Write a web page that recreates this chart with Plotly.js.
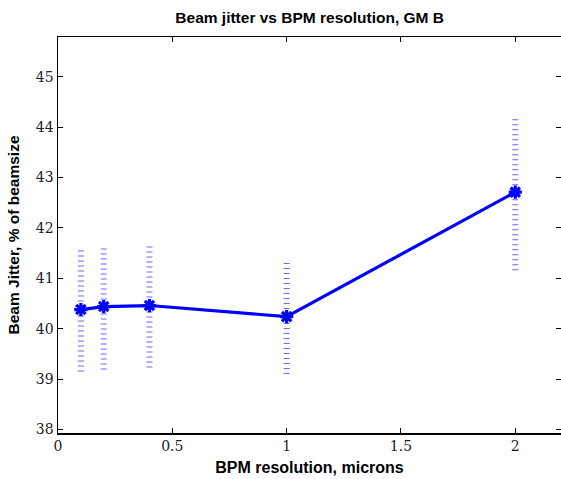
<!DOCTYPE html>
<html>
<head>
<meta charset="utf-8">
<script src="https://cdn.plot.ly/plotly-3.0.1.min.js"></script>
<style>html,body{margin:0;padding:0;background:#fff;}#chart{width:561px;height:479px;}</style>
</head>
<body>
<div id="chart"></div>
<script>
const resolution = [0.1, 0.2, 0.4, 1.0, 2.0];
const jitter = [40.38, 40.44, 40.46, 40.24, 42.71];
const errLow = [39.15, 39.19, 39.23, 39.10, 41.16];
const errHigh = [41.58, 41.62, 41.64, 41.32, 44.18];
const xTicks = [0, 0.5, 1, 1.5, 2];
const xTickLabels = ['0', '0.5', '1', '1.5', '2'];
const yTicks = [38, 39, 40, 41, 42, 43, 44, 45];
const yTickLabels = ['38', '39', '40', '41', '42', '43', '44', '45'];

const traces = [];
resolution.forEach((x, i) => {
  traces.push({
    x: [x, x],
    y: [errLow[i], errHigh[i]],
    mode: 'lines',
    line: {color: 'rgb(105,105,255)', width: 6, dash: '1px,4px'},
    hoverinfo: 'skip',
    showlegend: false
  });
});
traces.push({
  x: resolution,
  y: jitter,
  mode: 'lines+markers',
  line: {color: '#0000ff', width: 3.2},
  marker: {symbol: 'asterisk-open', size: 11, color: '#0000ff', line: {color: '#0000ff', width: 3.2}},
  showlegend: false
});

const sansFont = 'Liberation Sans';
const serifFont = 'DejaVu Serif';
const layout = {
  width: 561, height: 479,
  margin: {l: 58, r: 0, t: 37, b: 46},
  paper_bgcolor: '#fff', plot_bgcolor: '#fff',
  font: {family: serifFont, size: 14, color: '#222'},
  title: {
    text: '<b>Beam jitter vs BPM resolution, GM B</b>',
    font: {family: sansFont, size: 15.5, color: '#000'},
    x: 0.552, xanchor: 'center', y: 0.963, yanchor: 'middle', yref: 'container'
  },
  xaxis: {
    showline: true, linecolor: '#000', linewidth: 1.5,
    mirror: 'ticks', ticks: 'inside', ticklen: 5, tickcolor: '#000', tickwidth: 1,
    showgrid: false, zeroline: false,
    tickfont: {family: serifFont, size: 14, color: '#222'},
    range: [0, 2.2], tickvals: xTicks, ticktext: xTickLabels,
    title: {text: '<b>BPM resolution, microns</b>', standoff: 8,
      font: {family: sansFont, size: 16, color: '#000'}}
  },
  yaxis: {
    showline: true, linecolor: '#000', linewidth: 1.5,
    mirror: 'ticks', ticks: 'inside', ticklen: 5, tickcolor: '#000', tickwidth: 1,
    showgrid: false, zeroline: false,
    tickfont: {family: serifFont, size: 14, color: '#222'},
    range: [37.93, 45.79], tickvals: yTicks, ticktext: yTickLabels,
    title: {text: '<b>Beam Jitter, % of beamsize</b>', standoff: 12,
      font: {family: sansFont, size: 15.5, color: '#000'}}
  }
};

Plotly.newPlot('chart', traces, layout, {staticPlot: true, displayModeBar: false});
</script>
</body>
</html>
